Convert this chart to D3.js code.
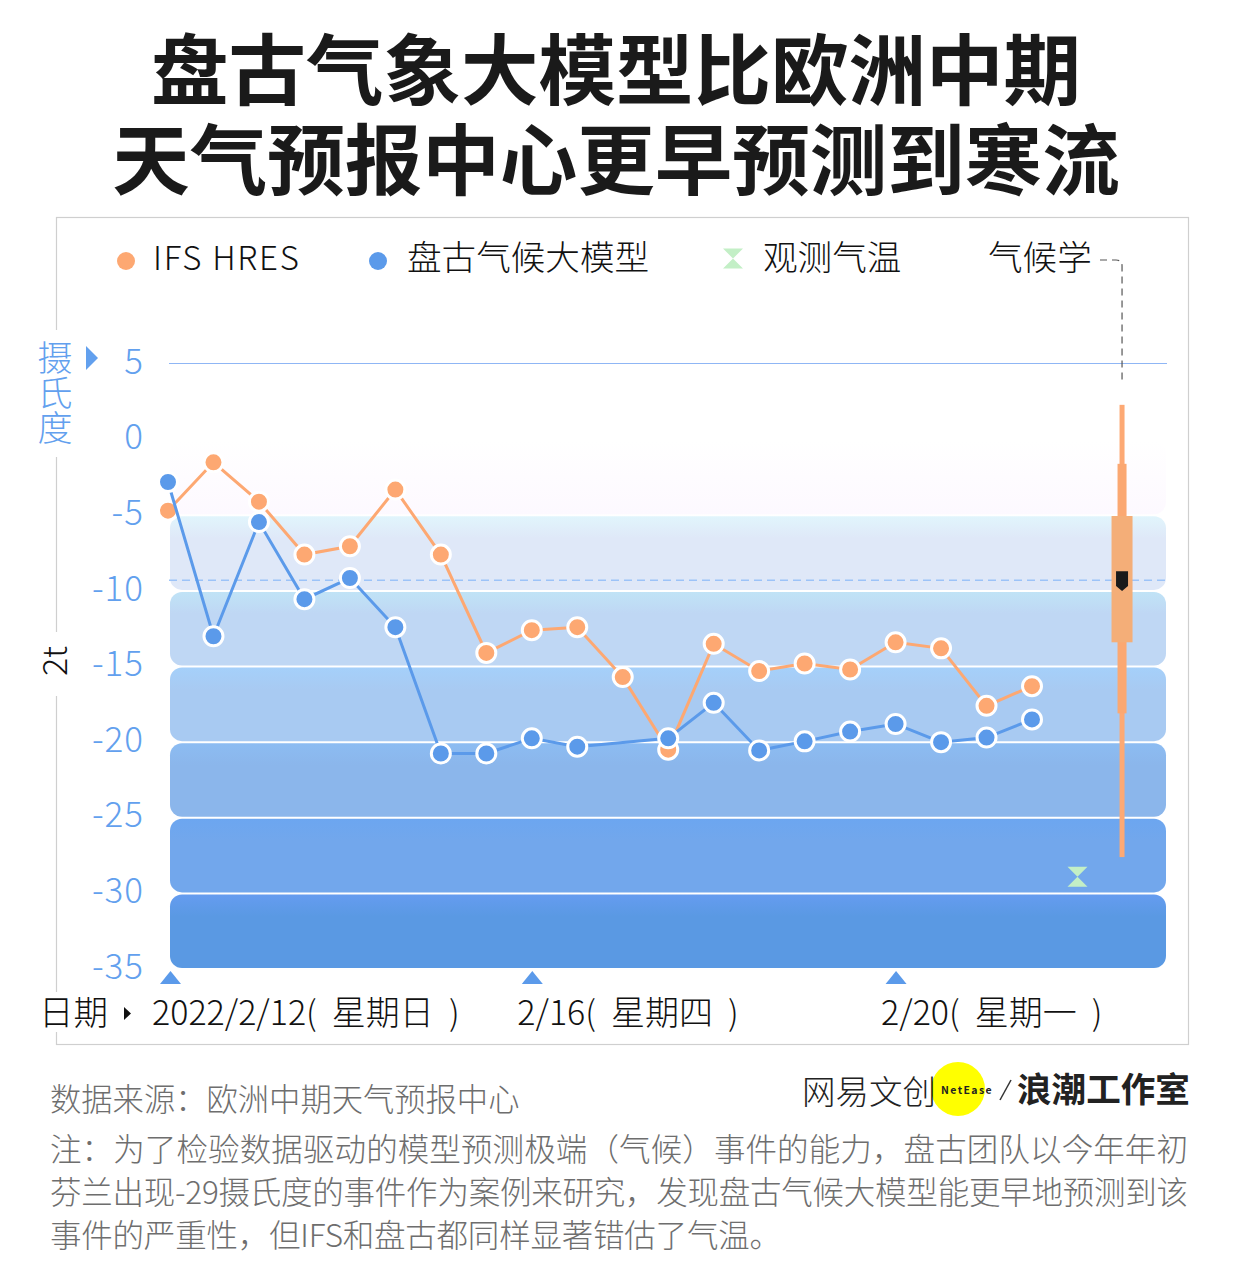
<!DOCTYPE html>
<html>
<head>
<meta charset="utf-8">
<script src="https://cdn.jsdelivr.net/npm/d3@7"></script>
<style>
html, body { margin: 0; padding: 0; background: #fff; }
svg { display: block; }
text { font-family: "Noto Sans CJK SC", "Noto Sans", sans-serif; }
.light { font-weight: 300; }
</style>
</head>
<body>
<div id="chart"></div>
<script>
const titleLines = ["盘古气象大模型比欧洲中期", "天气预报中心更早预测到寒流"];
const sourceLine = "数据来源：欧洲中期天气预报中心";
const noteLines = [
    "注：为了检验数据驱动的模型预测极端（气候）事件的能力，盘古团队以今年年初",
    "芬兰出现-29摄氏度的事件作为案例来研究，发现盘古气候大模型能更早地预测到该",
    "事件的严重性，但IFS和盘古都同样显著错估了气温。"
];

// one step = 12 hours, starting 2022/2/12
const steps = d3.range(20);
const ifsValues = [-4.7, -1.5, -4.1, -7.6, -7.05, -3.3, -7.6, -14.1, -12.6, -12.4, -15.7, -20.5, -13.5, -15.3, -14.8, -15.2, -13.4, -13.8, -17.6, -16.3];
const panguValues = [-2.8, -13.0, -5.45, -10.55, -9.15, -12.4, -20.75, -20.75, -19.75, -20.3, null, -19.75, -17.4, -20.55, -19.95, -19.3, -18.8, -20.0, -19.7, -18.5];

const yTicks = [5, 0, -5, -10, -15, -20, -25, -30, -35];
const xTickSteps = [0, 8, 16];
const xTickLabels = ["2022/2/12(\u00a0\u00a0星期日\u00a0\u00a0)", "2/16(\u00a0\u00a0星期四\u00a0\u00a0)", "2/20(\u00a0\u00a0星期一\u00a0\u00a0)"];
const bandEdges = [0, -5, -10, -15, -20, -25, -30, -35];

// climatology box and observed marker, placed on the step axis
const climateStep = 20.98;
const climateWhisker = [2.3, -27.6];
const climateInner = [-1.6, -18.1];
const climateBox = [-5.05, -13.4];
const climateMedian = [-8.7, -10.0];
const climateMean = -9.3;
const observedStep = 20;
const observedValue = -28.9;

const legendNames = ["IFS HRES", "盘古气候大模型", "观测气温", "气候学"];

const width = 1237, height = 1280;
const orange = "#fda872", blue = "#5b9aea", axisBlue = "#62a0ee";

const svg = d3.select("#chart").append("svg")
    .attr("width", width)
    .attr("height", height);

const x = d3.scaleLinear().domain([0, 19]).range([168, 1032]);
const y = d3.scaleLinear().domain([5, -35]).range([364, 969]);

// Band gradients
const bandColors = [
    ["#ffffff", "#fdf9ff"],
    ["#e1f5fc", "#dfe8f8"],
    ["#c0e3f6", "#bfd7f4"],
    ["#a5d0fa", "#a8caf2"],
    ["#8cbcf2", "#8bb6eb"],
    ["#6ca6f0", "#72a7ec"],
    ["#659cf0", "#5a99e3"]
];
const defs = svg.append("defs");
bandColors.forEach((c, i) => {
    const grad = defs.append("linearGradient")
        .attr("id", `band${i}`)
        .attr("x1", 0).attr("x2", 0).attr("y1", 0).attr("y2", 1);
    grad.append("stop").attr("offset", "0%").attr("stop-color", c[0]);
    grad.append("stop").attr("offset", i === 0 ? "100%" : "30%").attr("stop-color", c[1]);
});

// Title
svg.append("text")
    .attr("text-anchor", "middle")
    .attr("font-size", 77.5)
    .attr("font-weight", 700)
    .attr("fill", "#1a1a1a")
    .selectAll("tspan")
    .data(titleLines)
    .join("tspan")
    .attr("x", 616)
    .attr("y", (d, i) => 99 + i * 90)
    .text(d => d);

// Frame, broken where the axis labels sit
svg.append("rect")
    .attr("x", 56.5).attr("y", 217.5)
    .attr("width", 1132).attr("height", 827)
    .attr("fill", "none")
    .attr("stroke", "#cfcfcf")
    .attr("stroke-width", 1.2);
[[330, 457], [632, 696], [992, 1032]].forEach(gap => {
    svg.append("rect")
        .attr("x", 50).attr("y", gap[0])
        .attr("width", 14).attr("height", gap[1] - gap[0])
        .attr("fill", "#fff");
});

// Bands
svg.append("g").selectAll("rect")
    .data(bandEdges.slice(0, -1))
    .join("rect")
    .attr("x", 170)
    .attr("y", d => y(d) + 1)
    .attr("width", 996)
    .attr("height", d => y(d - 5) - y(d) - 2)
    .attr("rx", 12)
    .attr("fill", (d, i) => `url(#band${i})`);

// Reference lines
svg.append("line")
    .attr("x1", 169).attr("x2", 1167)
    .attr("y1", y(5) - 0.5).attr("y2", y(5) - 0.5)
    .attr("stroke", "#8fb6f5")
    .attr("stroke-width", 1.2);
svg.append("line")
    .attr("x1", 169).attr("x2", 1167)
    .attr("y1", y(climateMean)).attr("y2", y(climateMean))
    .attr("stroke", "#9cc3f8")
    .attr("stroke-width", 1.6)
    .attr("stroke-dasharray", "8 5");

// Y axis
const yAxis = svg.append("g")
    .attr("transform", "translate(144,-2)")
    .call(d3.axisLeft(y).tickValues(yTicks).tickSize(0).tickPadding(0).tickFormat(d => d));
yAxis.select(".domain").remove();
yAxis.selectAll("text")
    .attr("class", "light")
    .attr("font-size", 35)
    .attr("fill", axisBlue)
    .attr("letter-spacing", 1)
    .style("font-family", '"Noto Sans CJK SC"');

// Axis titles
svg.append("text")
    .attr("class", "light")
    .attr("x", 55)
    .attr("y", 340)
    .attr("writing-mode", "vertical-rl")
    .attr("font-size", 35)
    .attr("fill", axisBlue)
    .text("摄氏度");
svg.append("path")
    .attr("d", "M86,346 L98,358 L86,370 Z")
    .attr("fill", axisBlue);
svg.append("text")
    .attr("class", "light")
    .attr("transform", "translate(67,661) rotate(-90)")
    .attr("text-anchor", "middle")
    .attr("font-size", 34)
    .attr("fill", "#111")
    .text("2t");

// X axis
const xAxis = svg.append("g")
    .attr("transform", "translate(0,971)")
    .call(d3.axisBottom(x).tickValues(xTickSteps).tickSize(0).tickPadding(0)
        .tickFormat((d, i) => xTickLabels[i]));
xAxis.select(".domain").remove();
xAxis.selectAll(".tick").append("path")
    .attr("d", "M-10.5,13 L0,0 L10.5,13 Z")
    .attr("transform", (d, i) => `translate(${i === 0 ? 2 : 0},0)`)
    .attr("fill", blue);
xAxis.selectAll("text")
    .attr("class", "light")
    .attr("font-size", 34)
    .attr("fill", "#111")
    .attr("text-anchor", "start")
    .attr("dx", (d, i) => [-16.5, -15, -15][i])
    .attr("y", 54)
    .attr("dy", 0);
svg.append("text")
    .attr("class", "light")
    .attr("x", 39).attr("y", 1025)
    .attr("font-size", 34.5)
    .attr("fill", "#111")
    .text("日期");
svg.append("path")
    .attr("d", "M124,1007 L131,1013.5 L124,1020 Z")
    .attr("fill", "#111");

// Climatology box
const cx = x(climateStep);
const climate = svg.append("g");
climate.append("rect")
    .attr("x", cx - 2.5).attr("width", 5)
    .attr("y", y(climateWhisker[0]))
    .attr("height", y(climateWhisker[1]) - y(climateWhisker[0]))
    .attr("fill", "#fda974");
climate.append("rect")
    .attr("x", cx - 4.5).attr("width", 9)
    .attr("y", y(climateInner[0]))
    .attr("height", y(climateInner[1]) - y(climateInner[0]))
    .attr("fill", "#fba872");
climate.append("rect")
    .attr("x", cx - 10.5).attr("width", 21)
    .attr("y", y(climateBox[0]))
    .attr("height", y(climateBox[1]) - y(climateBox[0]))
    .attr("fill", "#f4ae78");
climate.append("path")
    .attr("d", () => {
        const t = y(climateMedian[0]), b = y(climateMedian[1]);
        return `M${cx - 6},${t} H${cx + 6} V${b - 5} L${cx},${b} L${cx - 6},${b - 5} Z`;
    })
    .attr("fill", "#1a1a1a");

// Dashed leader from the 气候学 legend
svg.append("path")
    .attr("d", `M1100,260 H1116 Q${cx},260 ${cx},266 V380`)
    .attr("fill", "none")
    .attr("stroke", "#555")
    .attr("stroke-width", 1.2)
    .attr("stroke-dasharray", "7 5");

// Observed marker
const hourglass = (mx, my, w, h) =>
    `M${mx - w},${my - h} H${mx + w} L${mx - w},${my + h} H${mx + w} Z`;
svg.append("path")
    .attr("d", hourglass(x(observedStep), y(observedValue), 10, 10))
    .attr("fill", "#c3efc6");

// Series
function drawSeries(values, color) {
    const pts = steps.map(i => ({ step: i, value: values[i] })).filter(d => d.value !== null);
    const line = d3.line().x(d => x(d.step)).y(d => y(d.value));
    const g = svg.append("g");
    g.append("path")
        .attr("d", line(pts))
        .attr("fill", "none")
        .attr("stroke", color)
        .attr("stroke-width", 3);
    g.selectAll("circle")
        .data(pts)
        .join("circle")
        .attr("cx", d => x(d.step))
        .attr("cy", d => y(d.value))
        .attr("r", 9.5)
        .attr("fill", color)
        .attr("stroke", "#fff")
        .attr("stroke-width", 3);
}
drawSeries(ifsValues, orange);
drawSeries(panguValues, blue);

// Legend
const legendX = [153, 407, 763, 988];
svg.append("g").selectAll("text")
    .data(legendNames)
    .join("text")
    .attr("class", "light")
    .attr("x", (d, i) => legendX[i])
    .attr("y", 270)
    .attr("font-size", (d, i) => i === 0 ? 33 : 34.6)
    .attr("letter-spacing", (d, i) => i === 0 ? 1.7 : 0)
    .attr("fill", "#111")
    .text(d => d);
svg.append("circle").attr("cx", 126).attr("cy", 261).attr("r", 9).attr("fill", orange);
svg.append("circle").attr("cx", 378).attr("cy", 261).attr("r", 9).attr("fill", blue);
svg.append("path").attr("d", hourglass(733, 258.5, 10, 10)).attr("fill", "#c3efc6");

// Footer
svg.append("text")
    .attr("class", "light")
    .attr("x", 50).attr("y", 1111)
    .attr("font-size", 31.3)
    .attr("fill", "#6e6e6e")
    .text(sourceLine);
const noteWidths = [1138, 1138, 731];
svg.append("g").selectAll("text")
    .data(noteLines)
    .join("text")
    .attr("class", "light")
    .attr("x", 50)
    .attr("y", (d, i) => 1161 + i * 43)
    .attr("font-size", 31.5)
    .attr("textLength", (d, i) => noteWidths[i])
    .attr("fill", "#6e6e6e")
    .text(d => d);

// Logo
svg.append("circle").attr("cx", 958).attr("cy", 1089).attr("r", 27).attr("fill", "#ffff00");
svg.append("text")
    .attr("class", "light")
    .attr("x", 802).attr("y", 1104)
    .attr("font-size", 33.5)
    .attr("fill", "#222")
    .text("网易文创");
svg.append("text")
    .attr("x", 941).attr("y", 1094)
    .attr("font-size", 10.5)
    .attr("font-weight", 700)
    .attr("letter-spacing", 1.4)
    .attr("fill", "#222")
    .text("NetEase");
svg.append("path")
    .attr("d", "M1000,1100 L1011,1080")
    .attr("stroke", "#333")
    .attr("stroke-width", 1.5);
svg.append("text")
    .attr("x", 1017).attr("y", 1102)
    .attr("font-size", 34.6)
    .attr("font-weight", 700)
    .attr("fill", "#222")
    .text("浪潮工作室");
</script>
</body>
</html>
